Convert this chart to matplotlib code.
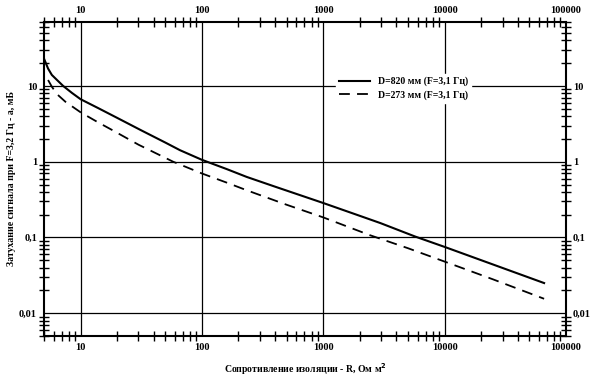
import matplotlib
matplotlib.use("Agg")
import matplotlib.pyplot as plt
from matplotlib.ticker import FixedLocator, FixedFormatter, LogLocator, NullFormatter

plt.rcParams["font.family"] = ["Liberation Serif", "DejaVu Serif"]
plt.rcParams["font.weight"] = "bold"

# данные
r_820 = [5, 5.4, 5.8, 6.4, 7.2, 8.5, 10, 14, 20, 31.6, 50, 66, 100, 160, 234, 400,
         1000, 2000, 2950, 5700, 10000, 25000, 66000]
a_820 = [23, 17, 14, 12, 10, 8.1, 6.7, 5.1, 3.8, 2.6, 1.79, 1.42, 1.06, 0.80, 0.63, 0.469,
         0.285, 0.193, 0.155, 0.103, 0.075, 0.044, 0.025]

r_273 = [5.4, 5.8, 6.4, 7.5, 10, 14, 18, 30, 58, 100, 160, 234, 500, 1000, 2430, 5000,
         10000, 25000, 66000]
a_273 = [12, 9.8, 7.8, 6.2, 4.5, 3.3, 2.65, 1.68, 1.0, 0.70, 0.53, 0.42, 0.27, 0.184, 0.107,
         0.072, 0.048, 0.028, 0.0155]

x_ticks = [10, 100, 1000, 10000, 100000]
x_labels = ["10", "100", "1000", "10000", "100000"]
y_ticks = [0.01, 0.1, 1, 10]
y_labels = ["0,01", "0,1", "1", "10"]

fig = plt.figure(figsize=(5.98, 3.77), dpi=100)
ax = fig.add_axes([0.0736, 0.1088, 0.8729, 0.8328])

ax.plot(r_820, a_820, color="black", lw=1.5, label="D=820 мм (F=3,1 Гц)")
ax.plot(r_273, a_273, color="black", lw=1.3, ls=(0, (6, 4)), label="D=273 мм (F=3,1 Гц)")

ax.set_xscale("log")
ax.set_yscale("log")
ax.set_xlim(5, 100000)
ax.set_ylim(0.005, 70)

ax.xaxis.set_major_locator(FixedLocator(x_ticks))
ax.xaxis.set_major_formatter(FixedFormatter(x_labels))
ax.yaxis.set_major_locator(FixedLocator(y_ticks))
ax.yaxis.set_major_formatter(FixedFormatter(y_labels))
ax.xaxis.set_minor_locator(LogLocator(base=10, subs=range(2, 10)))
ax.yaxis.set_minor_locator(LogLocator(base=10, subs=range(2, 10)))
ax.xaxis.set_minor_formatter(NullFormatter())
ax.yaxis.set_minor_formatter(NullFormatter())

ax.tick_params(which="both", direction="inout", top=True, right=True,
               labeltop=True, labelright=True, width=1.0, colors="black")
ax.tick_params(which="major", length=0, labelsize=7.5, pad=5)
ax.tick_params(which="minor", length=7)
for lab in ax.get_xticklabels() + ax.get_yticklabels():
    lab.set_fontweight("bold")

ax.grid(True, which="major", color="black", lw=0.9)
for s in ax.spines.values():
    s.set_linewidth(1.5)

ax.set_xlabel("Сопротивление изоляции - R, Ом м$^2$", fontsize=7, fontweight="bold", labelpad=7)
ax.set_ylabel("Затухание сигнала при F=3,2 Гц - а, мБ", fontsize=7, fontweight="bold", labelpad=2)

leg = ax.legend(loc="upper left", bbox_to_anchor=(0.55, 0.85), fontsize=7,
                frameon=True, fancybox=False, edgecolor="white", framealpha=1,
                handlelength=3.2, borderpad=0.3, labelspacing=0.4)
for t in leg.get_texts():
    t.set_fontweight("bold")

fig.savefig("out.png", dpi=100)
